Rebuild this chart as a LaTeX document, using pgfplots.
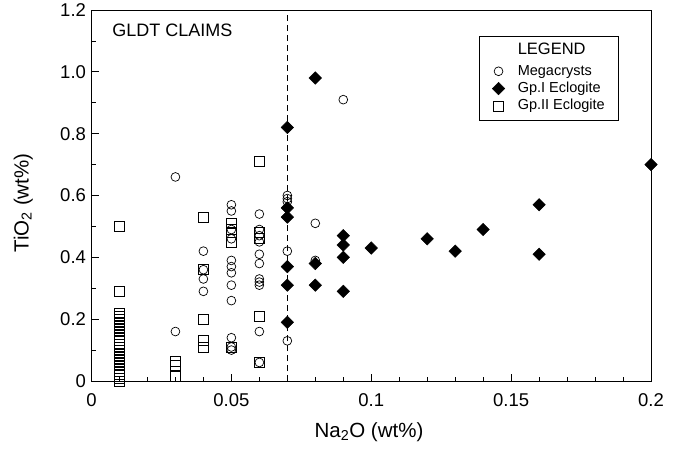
\documentclass[border=0pt]{standalone}
\usepackage{fontspec}
\setmainfont{Liberation Sans}
\usepackage{pgfplots}
\pgfplotsset{compat=1.18}
\begin{document}
\begin{tikzpicture}
\begin{axis}[
  scale only axis, width=559.5pt, height=371pt,
  xmin=0, xmax=0.2, ymin=0, ymax=1.2,
  clip=false,
  axis line style={line width=0.9pt},
  /pgf/number format/assume math mode=true,
  xtick={0,0.05,0.1,0.15,0.2}, xticklabels={0,0.05,0.1,0.15,0.2},
  ytick={0,0.2,0.4,0.6,0.8,1.0,1.2}, yticklabels={0,0.2,0.4,0.6,0.8,1.0,1.2},
  minor x tick num=4, minor y tick num=1,
  tick align=inside, tick pos=left,
  major tick length=7pt, minor tick length=4.5pt,
  tick style={black, line width=0.8pt},
  ticklabel style={font=\fontsize{18.5}{21}\selectfont},
  xticklabel style={yshift=-9pt},
  yticklabel style={xshift=-2pt},
  xlabel={Na\textsubscript{2}O (wt\%)},
  ylabel={TiO\textsubscript{2} (wt\%)},
  label style={font=\fontsize{20.5}{23}\selectfont},
  xlabel style={at={(rel axis cs:0.496,-0.138)}, anchor=center},
  ylabel style={at={(rel axis cs:-0.122,0.48)}, anchor=center},
  legend cell align=left,
  legend image code/.code={\path[draw=none,fill=none] (-6pt,-4pt) rectangle (6pt,4pt); \draw[#1] plot coordinates {(0pt,0pt)};},
  legend style={at={(0.6926,0.930)}, anchor=north west, draw=black, line width=0.6pt,
    font=\fontsize{14.5}{16}\selectfont, inner xsep=13pt, inner ysep=5.75pt,
    column sep=13pt, row sep=0pt,
    nodes={inner sep=0pt, inner ysep=1.5pt, text height=11pt, text depth=3.3pt}},
]
\addlegendimage{empty legend}
\addlegendentry[font=\fontsize{16.5}{18}\selectfont, text depth=6.6pt]{LEGEND}

\addplot[only marks, mark=o, mark size=4.4pt, mark options={line width=0.7pt, black}] coordinates {
(0.03,0.66) (0.03,0.16)
(0.04,0.42) (0.04,0.36) (0.04,0.33) (0.04,0.29)
(0.05,0.57) (0.05,0.55) (0.05,0.49) (0.05,0.46) (0.05,0.39) (0.05,0.37) (0.05,0.35) (0.05,0.31) (0.05,0.26) (0.05,0.14) (0.05,0.11) (0.05,0.10)
(0.06,0.54) (0.06,0.49) (0.06,0.47) (0.06,0.45) (0.06,0.41) (0.06,0.38) (0.06,0.33) (0.06,0.32) (0.06,0.31) (0.06,0.16) (0.06,0.06)
(0.07,0.60) (0.07,0.59) (0.07,0.58) (0.07,0.42) (0.07,0.13)
(0.08,0.51) (0.08,0.39)
(0.09,0.91)
};
\addlegendentry{Megacrysts}

\addplot[only marks, mark=square*, mark size=4.4pt, mark options={rotate=45, fill=black, draw=black, line width=0.5pt}] coordinates {
(0.07,0.82) (0.07,0.56) (0.07,0.53) (0.07,0.37) (0.07,0.31) (0.07,0.19)
(0.08,0.98) (0.08,0.38) (0.08,0.31)
(0.09,0.47) (0.09,0.44) (0.09,0.40) (0.09,0.29)
(0.10,0.43) (0.12,0.46) (0.13,0.42) (0.14,0.49)
(0.16,0.57) (0.16,0.41) (0.20,0.70)
};
\addlegendentry{Gp.I Eclogite}

\addplot[only marks, mark=square, mark size=5pt, mark options={line width=0.7pt, black}] coordinates {
(0.01,0.50) (0.01,0.29)
(0.01,0.22) (0.01,0.21) (0.01,0.20) (0.01,0.19) (0.01,0.18) (0.01,0.17) (0.01,0.16) (0.01,0.15)
(0.01,0.14) (0.01,0.13) (0.01,0.12) (0.01,0.11) (0.01,0.10) (0.01,0.09) (0.01,0.08) (0.01,0.07)
(0.01,0.06) (0.01,0.05) (0.01,0.04) (0.01,0.03) (0.01,0.02) (0.01,0.01) (0.01,0.00)
(0.03,0.065) (0.03,0.05) (0.03,0.015)
(0.04,0.53) (0.04,0.36) (0.04,0.20) (0.04,0.13) (0.04,0.11)
(0.05,0.51) (0.05,0.49) (0.05,0.48) (0.05,0.45) (0.05,0.11)
(0.06,0.71) (0.06,0.48) (0.06,0.46) (0.06,0.21) (0.06,0.06)
};
\addlegendentry{Gp.II Eclogite}

\addplot[black, line width=0.8pt, dash pattern=on 6pt off 4pt, forget plot] coordinates {(0.07,0) (0.07,1.2)};

\node[anchor=west, font=\fontsize{18}{20}\selectfont] at (rel axis cs:0.031,0.946) {GLDT CLAIMS};
\end{axis}
\path ([shift={(-91.5pt,-68pt)}]current axis.south west) rectangle ([shift={(25pt,10pt)}]current axis.north east);
\end{tikzpicture}
\end{document}
